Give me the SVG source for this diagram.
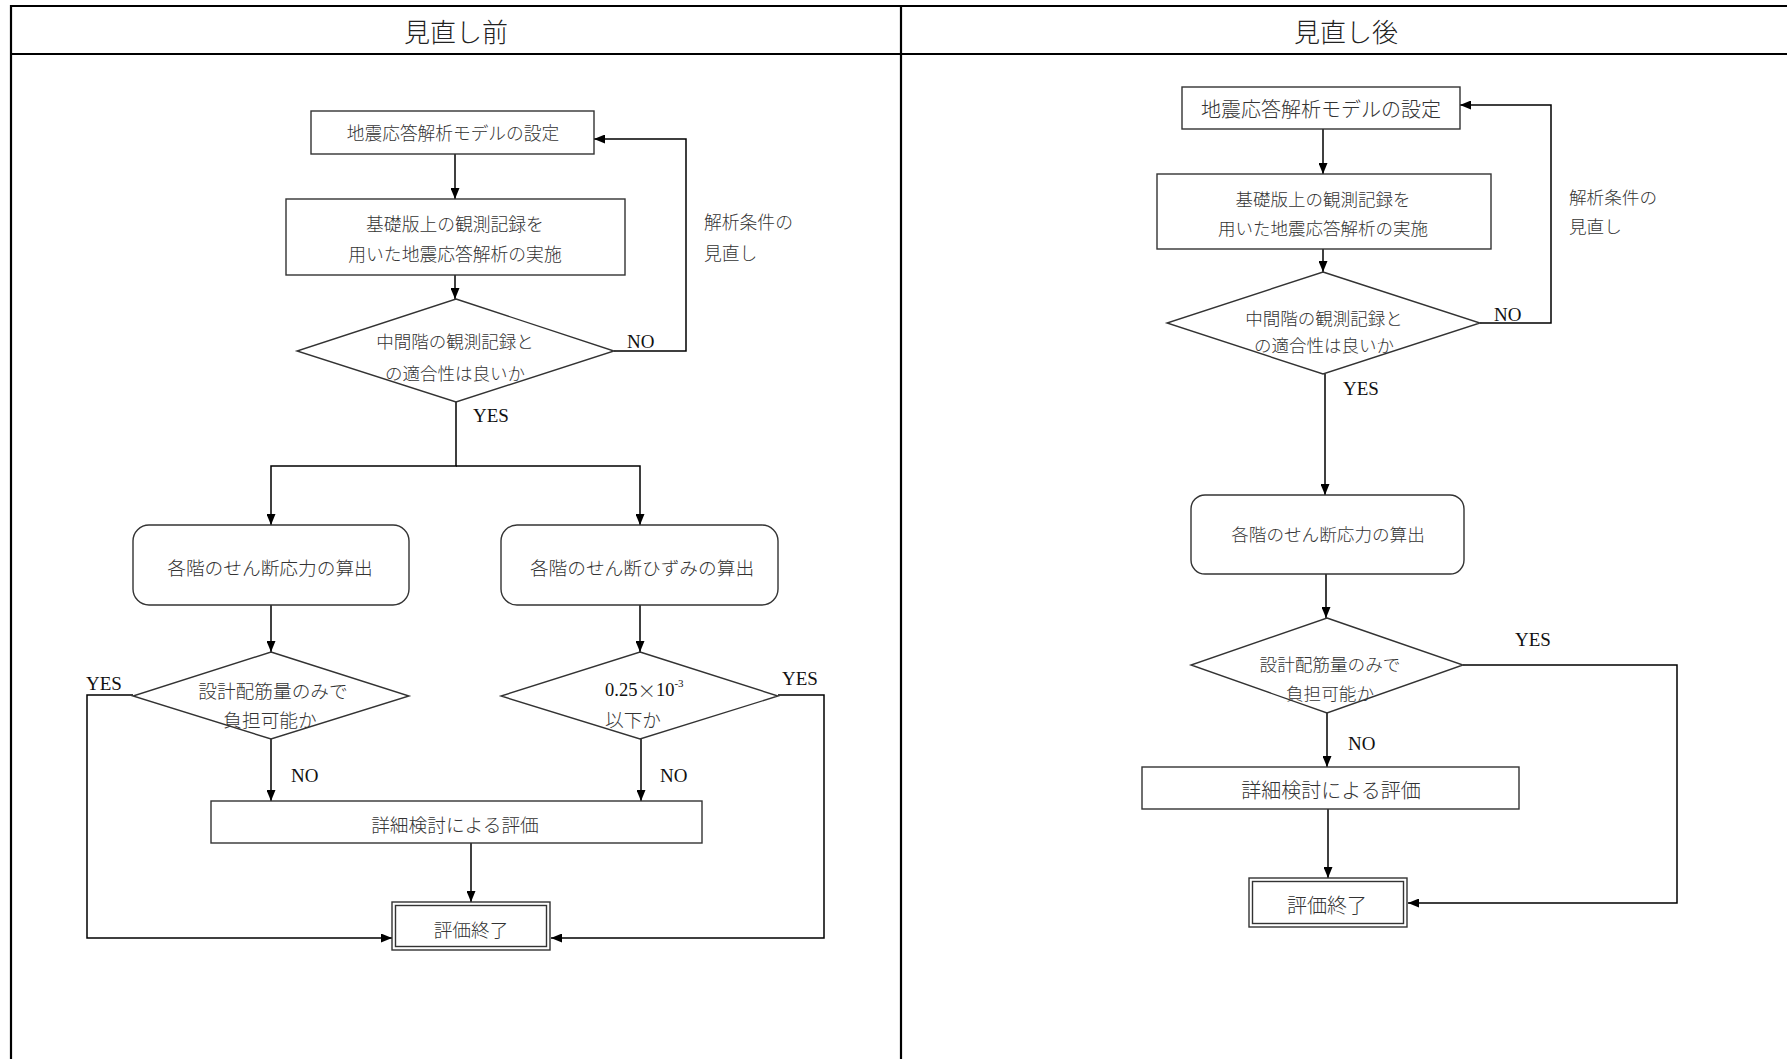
<svg xmlns="http://www.w3.org/2000/svg" width="1787" height="1059" viewBox="0 0 1787 1059">
<defs>
<marker id="arr" markerUnits="userSpaceOnUse" markerWidth="11" markerHeight="9" refX="11" refY="4.5" orient="auto">
<path d="M0,0 L11,4.5 L0,9 z" fill="#000"/>
</marker>
<style>
.frame{stroke:#000;stroke-width:2.2;fill:none}
.nd{fill:#fff;stroke:#333;stroke-width:1.4}
.cn{fill:none;stroke:#000;stroke-width:1.5}
.ca{fill:none;stroke:#000;stroke-width:1.5;marker-end:url(#arr)}
.jp{font-family:"Noto Sans CJK JP","Noto Sans",sans-serif;font-weight:300;fill:#333;text-anchor:middle;dominant-baseline:central}
.jl{font-family:"Noto Sans CJK JP","Noto Sans",sans-serif;font-weight:300;fill:#333;dominant-baseline:central}
.en{font-family:"Liberation Serif",serif;fill:#111;font-size:19px;dominant-baseline:central}
.hd{font-family:"Noto Sans CJK JP","Noto Sans",sans-serif;font-weight:300;fill:#222;font-size:26px;text-anchor:middle;dominant-baseline:central}
</style>
</defs>
<rect width="1787" height="1059" fill="#fff"/>

<g id="frame">
<line class="frame" x1="10" y1="6" x2="1787" y2="6"/>
<line class="frame" x1="10" y1="54" x2="1787" y2="54"/>
<line class="frame" x1="11" y1="5" x2="11" y2="1059"/>
<line class="frame" x1="901" y1="5" x2="901" y2="1059"/>
<text class="hd" x="456" y="30">見直し前</text>
<text class="hd" x="1346" y="30">見直し後</text>
</g>

<g id="connectors">
<!-- left panel -->
<path class="ca" d="M455,154 V199"/>
<path class="ca" d="M455,275 V299"/>
<path class="ca" d="M614,351 H686 V139 H594"/>
<path class="ca" d="M456,402 V466 H271 V525"/>
<path class="ca" d="M456,466 H640 V525"/>
<path class="ca" d="M271,605 V652"/>
<path class="ca" d="M640,605 V652"/>
<path class="ca" d="M271,739 V801"/>
<path class="ca" d="M641,739 V801"/>
<path class="ca" d="M133,695 H87 V938 H392"/>
<path class="ca" d="M778,695 H824 V938 H551"/>
<path class="ca" d="M471,843 V902"/>
<!-- right panel -->
<path class="ca" d="M1323,129 V174"/>
<path class="ca" d="M1323,249 V272"/>
<path class="ca" d="M1480,323 H1551 V105 H1460"/>
<path class="ca" d="M1325,374 V495"/>
<path class="ca" d="M1326,574 V618"/>
<path class="ca" d="M1463,665 H1677 V903 H1408"/>
<path class="ca" d="M1327,713 V767"/>
<path class="ca" d="M1328,809 V878"/>
</g>

<g id="labels">
<text class="en" x="627" y="341">NO</text>
<text class="en" x="473" y="415">YES</text>
<text class="en" x="86" y="683">YES</text>
<text class="en" x="782" y="678">YES</text>
<text class="en" x="291" y="775">NO</text>
<text class="en" x="660" y="775">NO</text>
<text class="jl" x="704" y="221" font-size="17.8">解析条件の</text>
<text class="jl" x="704" y="252" font-size="17.8">見直し</text>
<text class="en" x="1494" y="314">NO</text>
<text class="en" x="1343" y="388">YES</text>
<text class="en" x="1515" y="639">YES</text>
<text class="en" x="1348" y="743">NO</text>
<text class="jl" x="1569" y="196" font-size="17.6">解析条件の</text>
<text class="jl" x="1569" y="225" font-size="17.6">見直し</text>
</g>

<!-- left panel nodes -->
<g id="L_model">
<rect class="nd" x="311" y="111" width="283" height="43"/>
<text class="jp" x="453" y="132" font-size="17.7">地震応答解析モデルの設定</text>
</g>
<g id="L_analysis">
<rect class="nd" x="286" y="199" width="339" height="76"/>
<text class="jp" x="455" y="223" font-size="17.8">基礎版上の観測記録を</text>
<text class="jp" x="455" y="253" font-size="17.8">用いた地震応答解析の実施</text>
</g>
<g id="L_check">
<polygon class="nd" points="456,299 614,351 456,402 297,351"/>
<text class="jp" x="455" y="340" font-size="17.5">中間階の観測記録と</text>
<text class="jp" x="455" y="372" font-size="17.5">の適合性は良いか</text>
</g>
<g id="L_stress">
<rect class="nd" x="133" y="525" width="276" height="80" rx="16"/>
<text class="jp" x="270" y="566" font-size="18.7">各階のせん断応力の算出</text>
</g>
<g id="L_strain">
<rect class="nd" x="501" y="525" width="277" height="80" rx="16"/>
<text class="jp" x="642" y="566" font-size="18.7">各階のせん断ひずみの算出</text>
</g>
<g id="L_rebar">
<polygon class="nd" points="271,652 409,696 271,739 133,696"/>
<text class="jp" x="273" y="689" font-size="18.7">設計配筋量のみで</text>
<text class="jp" x="270" y="718" font-size="18.7">負担可能か</text>
</g>
<g id="L_limit">
<polygon class="nd" points="640,652 778,696 640,739 501,696"/>
<text class="jl" x="605" y="690" font-size="18.5"><tspan font-family="Liberation Serif" fill="#111">0.25</tspan><tspan>×</tspan><tspan font-family="Liberation Serif" fill="#111">10</tspan><tspan font-family="Liberation Serif" fill="#111" font-size="11" dy="-7">-3</tspan></text>
<text class="jl" x="605" y="718" font-size="18.7">以下か</text>
</g>
<g id="L_detail">
<rect class="nd" x="211" y="801" width="491" height="42"/>
<text class="jp" x="455" y="823" font-size="18.7">詳細検討による評価</text>
</g>
<g id="L_end">
<rect class="nd" x="392" y="902" width="158" height="48"/>
<rect class="nd" x="395.5" y="905.5" width="151" height="41"/>
<text class="jp" x="471" y="928" font-size="18.7">評価終了</text>
</g>

<!-- right panel nodes -->
<g id="R_model">
<rect class="nd" x="1182" y="87" width="278" height="42"/>
<text class="jp" x="1321" y="108" font-size="20">地震応答解析モデルの設定</text>
</g>
<g id="R_analysis">
<rect class="nd" x="1157" y="174" width="334" height="75"/>
<text class="jp" x="1323" y="198" font-size="17.5">基礎版上の観測記録を</text>
<text class="jp" x="1323" y="227" font-size="17.5">用いた地震応答解析の実施</text>
</g>
<g id="R_check">
<polygon class="nd" points="1323,272 1480,323 1323,374 1167,323"/>
<text class="jp" x="1324" y="317" font-size="17.5">中間階の観測記録と</text>
<text class="jp" x="1324" y="344" font-size="17.5">の適合性は良いか</text>
</g>
<g id="R_stress">
<rect class="nd" x="1191" y="495" width="273" height="79" rx="14"/>
<text class="jp" x="1328" y="533" font-size="17.6">各階のせん断応力の算出</text>
</g>
<g id="R_rebar">
<polygon class="nd" points="1327,618 1463,665 1327,713 1191,665"/>
<text class="jp" x="1330" y="663" font-size="17.6">設計配筋量のみで</text>
<text class="jp" x="1330" y="692" font-size="17.6">負担可能か</text>
</g>
<g id="R_detail">
<rect class="nd" x="1142" y="767" width="377" height="42"/>
<text class="jp" x="1331" y="789" font-size="20">詳細検討による評価</text>
</g>
<g id="R_end">
<rect class="nd" x="1249" y="878" width="158" height="49"/>
<rect class="nd" x="1252.5" y="881.5" width="151" height="42"/>
<text class="jp" x="1327" y="904" font-size="20">評価終了</text>
</g>
</svg>
